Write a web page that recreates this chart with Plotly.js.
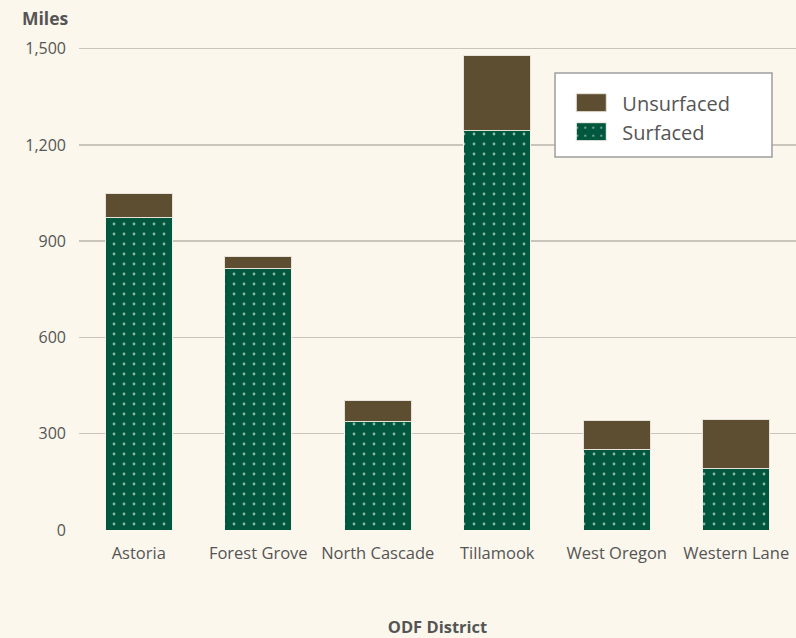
<!DOCTYPE html>
<html><head><meta charset="utf-8">
<script src="https://cdn.plot.ly/plotly-3.0.1.min.js"></script>
<style>html,body{margin:0;padding:0;background:#fbf7ec;}</style>
</head><body>
<div id="chart" style="width:796px;height:638px;"></div>
<script>
const districts = ["Astoria", "Forest Grove", "North Cascade", "Tillamook", "West Oregon", "Western Lane"];
const surfaced = [973, 814, 338, 1244, 251, 193];
const unsurfaced = [76, 39, 64, 236, 90, 150];
const yTicks = [0, 300, 600, 900, 1200, 1500];
const yTickLabels = ["0", "300", "600", "900", "1,200", "1,500"];

const traces = [
  {
    type: "bar", name: "Surfaced", x: districts, y: surfaced, legendrank: 2,
    marker: {
      color: "#00573d",
      line: {color: "#f4f1ea", width: 1},
      pattern: {shape: ".", fgcolor: "#8ab8a2", bgcolor: "#00573d", size: 10, solidity: 0.06}
    },
    hoverinfo: "skip"
  },
  {
    type: "bar", name: "Unsurfaced", x: districts, y: unsurfaced, legendrank: 1,
    marker: {color: "#5d4e31", line: {color: "#e8e3d8", width: 1}},
    hoverinfo: "skip"
  }
];

const layout = {
  width: 796, height: 638,
  paper_bgcolor: "#fbf7ec", plot_bgcolor: "#fbf7ec",
  margin: {l: 79, r: 0, t: 39, b: 108},
  barmode: "stack", bargap: 0.44,
  font: {family: "'Open Sans', Lato, sans-serif", color: "#555555", size: 16},
  xaxis: {
    showgrid: false, zeroline: false, showline: false, ticks: "",
    tickfont: {size: 16.5, color: "#555555"}, ticklabelstandoff: 11,
    title: {text: "<b>ODF District</b>", font: {size: 16.5, color: "#555555"}, standoff: 62}
  },
  yaxis: {
    range: [0, 1530], tickvals: yTicks, ticktext: yTickLabels,
    showgrid: true, gridcolor: "#c9c5bd", gridwidth: 1.5, zeroline: false,
    tickfont: {size: 16, color: "#555555"}, ticks: "", ticklabelstandoff: 12
  },
  legend: {
    x: 0.688, y: 0.910, xanchor: "left", yanchor: "top",
    bgcolor: "rgba(0,0,0,0)", borderwidth: 0,
    font: {size: 20, color: "#555555"}, traceorder: "normal",
    itemwidth: 40
  },
  shapes: [{
    type: "rect", xref: "paper", yref: "paper",
    x0: 0.6639, x1: 0.9665, y0: 0.7597, y1: 0.9308,
    fillcolor: "#ffffff", line: {color: "#9e9e9e", width: 1.5}, layer: "above"
  }],
  annotations: [{
    text: "<b>Miles</b>", xref: "paper", yref: "paper", x: -0.0823, y: 1.0,
    xanchor: "left", yanchor: "bottom", yshift: 7, showarrow: false,
    font: {size: 17.5, color: "#555555"}
  }]
};

Plotly.newPlot("chart", traces, layout, {displayModeBar: false, staticPlot: true}).then(function () {
  document.querySelectorAll("#chart g.legendpoints path").forEach(function (p) {
    p.setAttribute("d", "M9,9H-21V-9H9Z");
  });
});
</script>
</body></html>
